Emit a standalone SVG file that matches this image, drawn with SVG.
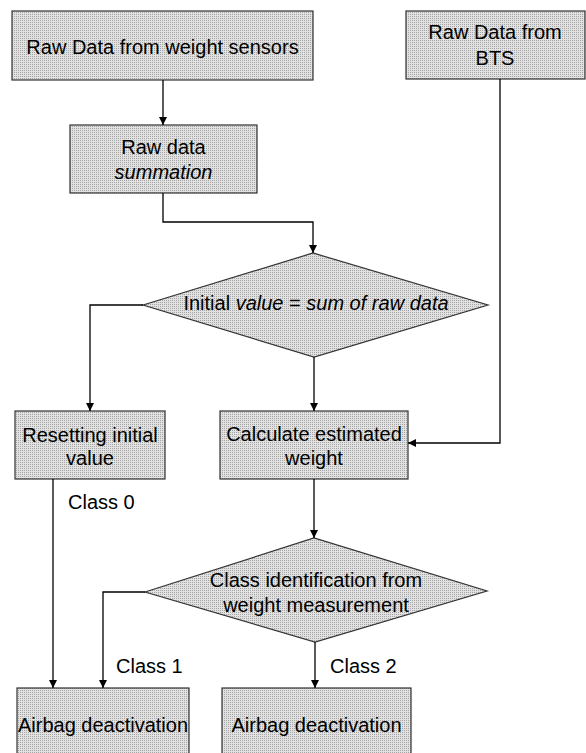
<svg xmlns="http://www.w3.org/2000/svg" width="586" height="753" viewBox="0 0 586 753">
<defs>
<pattern id="dots" width="2" height="2" patternUnits="userSpaceOnUse">
<rect width="2" height="2" fill="#e2e2e2"/>
<rect width="1" height="1" fill="#a4a4a4"/>
</pattern>
<marker id="arr" markerWidth="10" markerHeight="10" refX="8" refY="4" orient="auto" markerUnits="userSpaceOnUse">
<path d="M0,0 L8,4 L0,8 Z" fill="#000"/>
</marker>
<style>
.n{fill:url(#dots);stroke:#333;stroke-width:1.2}
.t{font-family:"Liberation Sans",Arial,sans-serif;font-size:20px;fill:#000;text-anchor:middle}
.l{font-family:"Liberation Sans",Arial,sans-serif;font-size:20px;fill:#000}
.c{fill:none;stroke:#000;stroke-width:1.3;marker-end:url(#arr)}
</style>
</defs>
<rect width="586" height="753" fill="#fff"/>
<g id="n_weight">
<rect class="n" x="12" y="11" width="301" height="69"/>
<text class="t" x="162.5" y="54">Raw Data from weight sensors</text>
</g>
<g id="n_bts">
<rect class="n" x="406" y="11" width="179" height="68"/>
<text class="t" x="495" y="39">Raw Data from</text>
<text class="t" x="495" y="65">BTS</text>
</g>
<g id="n_sum">
<rect class="n" x="70" y="125" width="187" height="68"/>
<text class="t" x="163.5" y="154">Raw data</text>
<text class="t" x="163.5" y="179" font-style="italic">summation</text>
</g>
<g id="n_dec1">
<polygon class="n" points="143,305 313,253 488,305 314,357"/>
<text class="t" x="316" y="310">Initial <tspan font-style="italic">value</tspan> = <tspan font-style="italic">sum of raw data</tspan></text>
</g>
<g id="n_reset">
<rect class="n" x="15" y="411" width="150" height="68"/>
<text class="t" x="90" y="442">Resetting initial</text>
<text class="t" x="90" y="465">value</text>
</g>
<g id="n_calc">
<rect class="n" x="220" y="411" width="188" height="68"/>
<text class="t" x="314" y="441">Calculate estimated</text>
<text class="t" x="314" y="465">weight</text>
</g>
<g id="n_dec2">
<polygon class="n" points="145,592 314,538 487,591 315,642"/>
<text class="t" x="316" y="587">Class identification from</text>
<text class="t" x="316" y="612">weight measurement</text>
</g>
<g id="n_air1">
<rect class="n" x="17" y="688" width="172" height="80"/>
<text class="t" x="103" y="732">Airbag deactivation</text>
</g>
<g id="n_air2">
<rect class="n" x="222" y="688" width="189" height="80"/>
<text class="t" x="316.5" y="732">Airbag deactivation</text>
</g>
<g id="connectors">
<path class="c" d="M163,80 V125"/>
<path class="c" d="M163,193 V222 H313 V253"/>
<path class="c" d="M143,305 H90 V411"/>
<path class="c" d="M314,357 V411"/>
<path class="c" d="M500,79 V443 H408"/>
<path class="c" d="M53,479 V688"/>
<path class="c" d="M314,479 V538"/>
<path class="c" d="M145,592 H103 V688"/>
<path class="c" d="M315,642 V688"/>
<text class="l" x="68" y="509">Class 0</text>
<text class="l" x="116" y="673">Class 1</text>
<text class="l" x="330" y="673">Class 2</text>
</g>
</svg>
